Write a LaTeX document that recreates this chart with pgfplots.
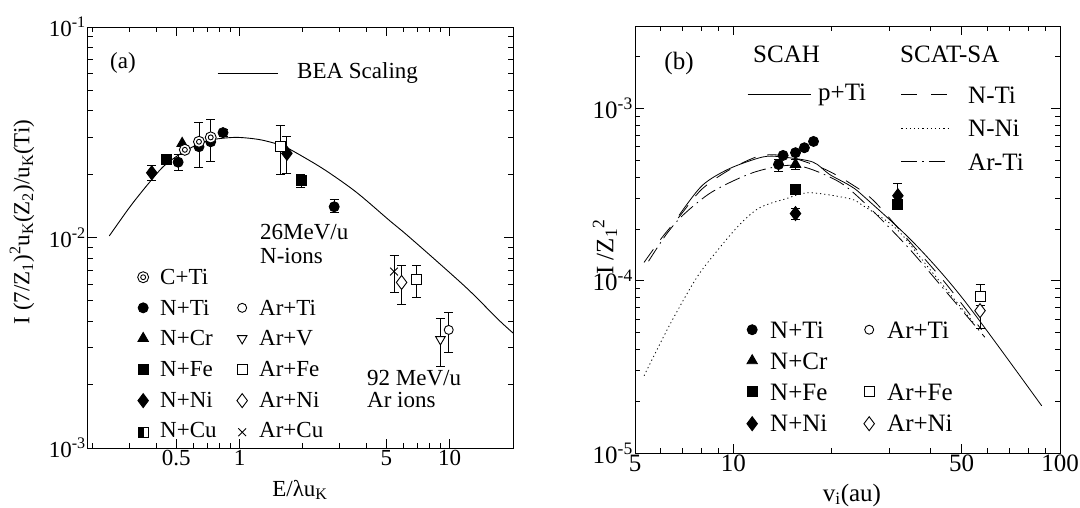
\documentclass[border=0pt]{standalone}
\usepackage{pgfplots}
\pgfplotsset{compat=1.18}
\usepackage{fontspec}
\setmainfont{Liberation Serif}
\newcommand{\fa}{\fontsize{23}{26}\selectfont}
\newcommand{\fb}{\fontsize{25}{28}\selectfont}

\pgfdeclareplotmark{bullseye}{%
 \pgfpathcircle{\pgfpointorigin}{\pgfplotmarksize}\pgfusepathqfillstroke
 \pgfpathcircle{\pgfpointorigin}{0.45\pgfplotmarksize}\pgfusepathqstroke}
\pgfdeclareplotmark{halfsquare}{%
 \pgfpathrectangle{\pgfqpoint{-\pgfplotmarksize}{-\pgfplotmarksize}}{\pgfqpoint{2\pgfplotmarksize}{2\pgfplotmarksize}}\pgfusepathqfillstroke
 \pgfsetfillcolor{black}%
 \pgfpathrectangle{\pgfqpoint{-\pgfplotmarksize}{-\pgfplotmarksize}}{\pgfqpoint{1.1\pgfplotmarksize}{2\pgfplotmarksize}}\pgfusepathqfill}

\pgfplotsset{
 fcirc/.style={mark=*, mark size=5pt, mark options={fill=black, draw=black, solid, line width=0.9pt}},
 ftri/.style={mark=triangle*, mark size=6pt, mark options={fill=black, draw=black, solid, line width=0.9pt}},
 fsq/.style={mark=square*, mark size=5pt, mark options={fill=black, draw=black, solid, line width=0.9pt}},
 fdia/.style={mark=diamond*, mark size=7pt, mark options={fill=black, draw=black, solid, line width=0.9pt}},
 hsq/.style={mark=halfsquare, mark size=5pt, mark options={fill=white, draw=black, solid, line width=0.9pt}},
 bulls/.style={mark=bullseye, mark size=5.5pt, mark options={fill=white, draw=black, solid, line width=0.9pt}},
 ocirc/.style={mark=*, mark size=4.5pt, mark options={fill=white, draw=black, solid, line width=0.9pt}},
 otri/.style={mark=triangle*, mark size=5.5pt, mark options={fill=white, draw=black, solid, rotate=180, line width=0.9pt}},
 osq/.style={mark=square*, mark size=5pt, mark options={fill=white, draw=black, solid, line width=0.9pt}},
 odia/.style={mark=diamond*, mark size=7pt, mark options={fill=white, draw=black, solid, line width=0.9pt}},
 xmk/.style={mark=x, mark size=5.5pt, mark options={draw=black, solid, line width=0.9pt}},
 eb/.style={error bars/y dir=both, error bars/y explicit,
   error bars/error bar style={line width=0.9pt, black},
   error bars/error mark options={rotate=90, mark size=4.5pt, line width=0.9pt, black}},
 mlegA/.style={only marks, legend image code/.code={\path[draw=none, fill=none] (0pt,-6pt) rectangle (24pt,6pt);
   \draw[mark repeat=2,mark phase=2,##1] plot coordinates {(0pt,0pt) (7pt,0pt) (24pt,0pt)};}},
 mlegB/.style={only marks, legend image code/.code={\path[draw=none, fill=none] (0pt,-6pt) rectangle (25pt,6pt);
   \draw[mark repeat=2,mark phase=2,##1] plot coordinates {(0pt,0pt) (7pt,0pt) (25pt,0pt)};}},
}

\begin{document}
\begin{tikzpicture}[x=1pt,y=1pt]
\useasboundingbox (0,0) rectangle (1080,-508);

% ================= Panel (a) =================
\begin{axis}[scale only axis, xmode=log, ymode=log,
  axis line style={line width=1pt}, tick style={line width=0.8pt, black},
  major tick length=9pt, minor tick length=5pt, tick align=inside,
  tick pos=both, xticklabel pos=lower, yticklabel pos=left,
  ticklabel style={font=\fa, inner sep=2pt},
  legend cell align=left,
  at={(88pt,-448pt)}, anchor=south west, width=425pt, height=421pt,
  xmin=0.19, xmax=20, ymin=1e-3, ymax=1e-1,
  xtick={0.5,1,5,10}, xticklabels={0.5,1,5,10},
  minor xtick={0.2,0.3,0.4,0.6,0.7,0.8,0.9,2,3,4,6,7,8,9,20},
  ytick={1e-3,1e-2,1e-1}, yticklabels={10\textsuperscript{-3},10\textsuperscript{-2},10\textsuperscript{-1}},
  minor ytick={2e-3,3e-3,4e-3,5e-3,6e-3,7e-3,8e-3,9e-3,2e-2,3e-2,4e-2,5e-2,6e-2,7e-2,8e-2,9e-2},
  legend columns=2,
  legend style={draw=none, fill=none, inner sep=0pt, nodes={inner sep=0pt, text depth=0pt},
    at={(axis description cs:0.1129,0.4204)}, anchor=north west,
    column sep=0pt, row sep=18.6pt},
]
\addplot[forget plot, mark=none, black, line width=0.9pt, smooth] coordinates {
(0.240,0.01018) (0.301,0.0140) (0.361,0.0176) (0.433,0.0217) (0.520,0.0249)
(0.624,0.0275) (0.748,0.0292) (0.965,0.0299) (1.24,0.0292) (1.55,0.0276)
(1.73,0.0263) (2.48,0.0213) (3.57,0.0165) (5.14,0.0121) (6.17,0.0104)
(8.55,0.00782) (12.3,0.00564) (17.1,0.00406) (20,0.00352)};

\addplot[forget plot, only marks, fdia, eb] coordinates {
(0.382,0.0203) += (0,0.0016) -= (0,0.0017)
(1.68,0.0251) += (0,0.0050) -= (0,0.0049)};
\addplot[forget plot, only marks, fsq] coordinates {(0.45,0.0235)};
\addplot[forget plot, only marks, fsq, eb] coordinates {
(1.96,0.0186) += (0,0.0014) -= (0,0.0013)};
\addplot[forget plot, only marks, fcirc, eb] coordinates {
(0.510,0.0228) += (0,0.0021) -= (0,0.0019)
(0.834,0.0315) += (0,0.0012) -= (0,0.0012)
(2.82,0.0140) += (0,0.0011) -= (0,0.0009)};
\addplot[forget plot, only marks, fcirc] coordinates {(0.641,0.0270) (0.729,0.0285)};
\addplot[forget plot, only marks, ftri] coordinates {(0.533,0.0280)};
\addplot[forget plot, only marks, bulls] coordinates {(0.549,0.0261)};
\addplot[forget plot, only marks, bulls, eb] coordinates {
(0.641,0.0285) += (0,0.0067) -= (0,0.0069)
(0.729,0.0299) += (0,0.0066) -= (0,0.0070)};
\addplot[forget plot, only marks, osq, eb] coordinates {
(1.56,0.0272) += (0,0.0067) -= (0,0.0072)
(6.95,0.00635) += (0,0.00105) -= (0,0.00115)};
\addplot[forget plot, only marks, xmk, eb] coordinates {
(5.43,0.00689) += (0,0.00137) -= (0,0.00139)};
\addplot[forget plot, only marks, odia, eb] coordinates {
(5.9,0.00612) += (0,0.00128) -= (0,0.00129)};
\addplot[forget plot, only marks, otri, eb] coordinates {
(9.03,0.00328) += (0,0.00085) -= (0,0.00085)};
\addplot[forget plot, only marks, ocirc, eb] coordinates {
(9.89,0.00364) += (0,0.00076) -= (0,0.00080)};

\addlegendimage{bulls, mlegA}\addlegendentry{\makebox[75pt]{}}
\addlegendimage{empty legend}\addlegendentry{\makebox[10pt]{}}
\addlegendimage{fcirc, mlegA}\addlegendentry{\makebox[75pt]{}}
\addlegendimage{ocirc, mlegA}\addlegendentry{\makebox[10pt]{}}
\addlegendimage{ftri, mlegA}\addlegendentry{\makebox[75pt]{}}
\addlegendimage{otri, mlegA}\addlegendentry{\makebox[10pt]{}}
\addlegendimage{fsq, mlegA}\addlegendentry{\makebox[75pt]{}}
\addlegendimage{osq, mlegA}\addlegendentry{\makebox[10pt]{}}
\addlegendimage{fdia, mlegA}\addlegendentry{\makebox[75pt]{}}
\addlegendimage{odia, mlegA}\addlegendentry{\makebox[10pt]{}}
\addlegendimage{hsq, mlegA}\addlegendentry{\makebox[75pt]{}}
\addlegendimage{xmk, mlegA}\addlegendentry{\makebox[10pt]{}}
\end{axis}

\begin{axis}[scale only axis, hide axis, xmin=0, xmax=1, ymin=0, ymax=1,
  at={(88pt,-448pt)}, anchor=south west, width=425pt, height=421pt,
  legend style={draw=none, fill=none, inner sep=0pt, nodes={inner sep=0pt}, at={(axis description cs:0.3035,0.8907)}, anchor=west},
  legend image code/.code={\path[draw=none, fill=none] (0pt,-6pt) rectangle (60pt,6pt); \draw[#1] (0pt,0pt) -- (60pt,0pt);}]
\addplot[forget plot, draw=none] coordinates {(0.5,0.5)};
\addlegendimage{black, line width=0.9pt}\addlegendentry{\makebox[10pt]{}}
\end{axis}

% legend texts, panel (a)
\begin{scope}[every node/.style={font=\fa, anchor=west, inner sep=0pt}]
\node at (297,-73) {BEA Scaling};
\node at (160,-277) {C+Ti};
\node at (160,-307.6) {N+Ti};
\node at (160,-338.2) {N+Cr};
\node at (160,-368.8) {N+Fe};
\node at (160,-399.4) {N+Ni};
\node at (160,-430) {N+Cu};
\node at (259,-307.6) {Ar+Ti};
\node at (259,-338.2) {Ar+V};
\node at (259,-368.8) {Ar+Fe};
\node at (259,-399.4) {Ar+Ni};
\node at (259,-430) {Ar+Cu};
\end{scope}

\node[font=\fa, anchor=center] at (123,-63) {(a)};
\node[font=\fa, anchor=base west, inner sep=0pt] at (260,-240) {26MeV/u};
\node[font=\fa, anchor=base west, inner sep=0pt] at (260,-263) {N-ions};
\node[font=\fa, anchor=base west, inner sep=0pt] at (367,-385) {92 MeV/u};
\node[font=\fa, anchor=base west, inner sep=0pt] at (367,-407) {Ar ions};
\node[font=\fa, rotate=90, anchor=center] at (22,-222)
  {I (7/Z\textsubscript{1})\textsuperscript{2}u\textsubscript{K}(Z\textsubscript{2})/u\textsubscript{K}(Ti)};
\node[font=\fa, anchor=center] at (300,-490) {E/λu\textsubscript{K}};

% ================= Panel (b) =================
\begin{axis}[scale only axis, xmode=log, ymode=log,
  axis line style={line width=1pt}, tick style={line width=0.8pt, black},
  major tick length=9pt, minor tick length=5pt, tick align=inside,
  tick pos=both, xticklabel pos=lower, yticklabel pos=left,
  ticklabel style={font=\fb, inner sep=2pt},
  legend cell align=left,
  at={(635pt,-453pt)}, anchor=south west, width=425pt, height=426.5pt,
  xmin=5, xmax=100, ymin=1e-5, ymax=3e-3,
  xtick={5,10,50,100}, xticklabels={5,10,50,100},
  minor xtick={6,7,8,9,20,30,40,60,70,80,90},
  ytick={1e-5,1e-4,1e-3}, yticklabels={10\textsuperscript{-5},10\textsuperscript{-4},10\textsuperscript{-3}},
  minor ytick={2e-5,3e-5,4e-5,5e-5,6e-5,7e-5,8e-5,9e-5,2e-4,3e-4,4e-4,5e-4,6e-4,7e-4,8e-4,9e-4,2e-3,3e-3},
  legend columns=2,
  legend style={draw=none, fill=none, inner sep=0pt, nodes={inner sep=0pt, text depth=0pt},
    at={(axis description cs:0.2588,0.3036)}, anchor=north west,
    column sep=0pt, row sep=19pt},
]
\addplot[forget plot, mark=none, black, line width=0.8pt, smooth] coordinates {
(6.82,2.40e-4) (8.03,3.58e-4) (9.72,4.48e-4) (12.3,5.24e-4) (14.1,5.24e-4)
(17.5,4.90e-4) (19.7,4.15e-4) (22.7,3.58e-4) (24.9,3.13e-4) (35.5,1.68e-4)
(50.5,7.85e-5) (87.9,1.88e-5)};
\addplot[forget plot, mark=none, black, line width=0.8pt, smooth, dash pattern=on 16pt off 12pt] coordinates {
(5.33,1.28e-4) (6.07,1.80e-4) (6.82,2.35e-4) (8.0,3.40e-4) (9.7,4.40e-4)
(12.0,5.30e-4) (14.5,5.30e-4) (18.8,4.50e-4) (22.7,3.70e-4) (27,2.90e-4)
(35.5,1.60e-4) (45,9.5e-5) (57.5,5.2e-5)};
\addplot[forget plot, mark=none, black, line width=0.8pt, smooth, dash pattern=on 1.2pt off 3pt] coordinates {
(5.33,2.81e-5) (6.37,5.50e-5) (7.69,1.03e-4) (8.86,1.47e-4) (10.4,2.10e-4)
(12.0,2.65e-4) (14.5,3.00e-4) (17.1,3.25e-4) (22.7,3.00e-4) (24.9,2.74e-4)
(31.6,2.00e-4) (39.9,1.17e-4) (54.2,5.75e-5)};
\addplot[forget plot, mark=none, black, line width=0.8pt, smooth, dash pattern=on 16pt off 5pt on 1.5pt off 5pt] coordinates {
(5.5,1.30e-4) (6.22,1.85e-4) (7.0,2.40e-4) (8.64,3.30e-4) (11.7,4.30e-4)
(15.6,4.68e-4) (20.7,3.83e-4) (24.9,2.90e-4) (33.9,1.60e-4) (44.9,8.6e-5)
(58.9,4.7e-5)};

\addplot[forget plot, only marks, fcirc, eb] coordinates {
(13.75,4.74e-4) += (0,0.35e-4) -= (0,0.40e-4)};
\addplot[forget plot, only marks, fcirc] coordinates {
(14.2,5.35e-4) (15.5,5.55e-4) (16.5,5.93e-4) (17.6,6.45e-4)};
\addplot[forget plot, only marks, ftri, eb] coordinates {
(15.5,4.75e-4) += (0,0.3e-4) -= (0,0.3e-4)};
\addplot[forget plot, only marks, fsq] coordinates {(15.5,3.38e-4) (31.9,2.78e-4)};
\addplot[forget plot, only marks, fdia, eb] coordinates {
(15.5,2.46e-4) += (0,0.19e-4) -= (0,0.19e-4)
(31.9,3.12e-4) += (0,0.58e-4) -= (0,0.3e-4)};
\addplot[forget plot, only marks, osq, eb] coordinates {
(56.9,8.15e-5) += (0,1.33e-5) -= (0,0.5e-5)};
\addplot[forget plot, only marks, odia, eb] coordinates {
(56.9,6.71e-5) += (0,0.5e-5) -= (0,1.40e-5)};

\addlegendimage{fcirc, mlegB}\addlegendentry{\makebox[92pt]{}}
\addlegendimage{ocirc, mlegB}\addlegendentry{\makebox[10pt]{}}
\addlegendimage{ftri, mlegB}\addlegendentry{\makebox[92pt]{}}
\addlegendimage{empty legend}\addlegendentry{\makebox[10pt]{}}
\addlegendimage{fsq, mlegB}\addlegendentry{\makebox[92pt]{}}
\addlegendimage{osq, mlegB}\addlegendentry{\makebox[10pt]{}}
\addlegendimage{fdia, mlegB}\addlegendentry{\makebox[92pt]{}}
\addlegendimage{odia, mlegB}\addlegendentry{\makebox[10pt]{}}
\end{axis}

% line legends (SCAH / SCAT-SA)
\begin{axis}[scale only axis, hide axis, xmin=0, xmax=1, ymin=0, ymax=1,
  at={(635pt,-453pt)}, anchor=south west, width=425pt, height=426.5pt,
  legend columns=2, legend cell align=left,
  legend style={draw=none, fill=none, inner sep=0pt, nodes={inner sep=0pt, text depth=0pt},
    at={(axis description cs:0.2635,0.8546)}, anchor=north west, row sep=21.5pt, column sep=0pt}]
\addplot[forget plot, draw=none] coordinates {(0.5,0.5)};
\addlegendimage{legend image code/.code={\path[draw=none, fill=none] (0pt,-6pt) rectangle (63pt,6pt); \draw[black, line width=0.8pt] (0pt,0pt) -- (63pt,0pt);}}
\addlegendentry{\makebox[90pt]{}}
\addlegendimage{legend image code/.code={\path[draw=none, fill=none] (0pt,-6pt) rectangle (47pt,6pt); \draw[black, line width=0.8pt, dash pattern=on 16pt off 14pt] (0pt,0pt) -- (47pt,0pt);}}
\addlegendentry{\makebox[10pt]{}}
\addlegendimage{empty legend}\addlegendentry{\makebox[90pt]{}}
\addlegendimage{legend image code/.code={\path[draw=none, fill=none] (0pt,-6pt) rectangle (47pt,6pt); \draw[black, line width=0.8pt, dash pattern=on 1.2pt off 3pt] (0pt,0pt) -- (47pt,0pt);}}
\addlegendentry{\makebox[10pt]{}}
\addlegendimage{empty legend}\addlegendentry{\makebox[90pt]{}}
\addlegendimage{legend image code/.code={\path[draw=none, fill=none] (0pt,-6pt) rectangle (47pt,6pt); \draw[black, line width=0.8pt, dash pattern=on 16pt off 5pt on 1.5pt off 5pt] (0pt,0pt) -- (47pt,0pt);}}
\addlegendentry{\makebox[10pt]{}}
\end{axis}

% legend texts, panel (b)
\begin{scope}[every node/.style={font=\fb, anchor=west, inner sep=0pt}]
\node at (818,-95) {p+Ti};
\node at (968,-95) {N-Ti};
\node at (968,-128.5) {N-Ni};
\node at (968,-162) {Ar-Ti};
\node at (770,-330) {N+Ti};
\node at (770,-361) {N+Cr};
\node at (770,-392) {N+Fe};
\node at (770,-423) {N+Ni};
\node at (887,-330) {Ar+Ti};
\node at (887,-392) {Ar+Fe};
\node at (887,-423) {Ar+Ni};
\end{scope}

\node[font=\fb, anchor=center] at (679,-63) {(b)};
\node[font=\fb, anchor=base west, inner sep=0pt] at (753,-63) {SCAH};
\node[font=\fb, anchor=base west, inner sep=0pt] at (900,-63) {SCAT-SA};
\node[font=\fb, rotate=90, anchor=center] at (605,-247) {I /Z\textsubscript{1}\textsuperscript{2}};
\node[font=\fb, anchor=center] at (852,-495) {v\textsubscript{i}(au)};
\end{tikzpicture}
\end{document}
